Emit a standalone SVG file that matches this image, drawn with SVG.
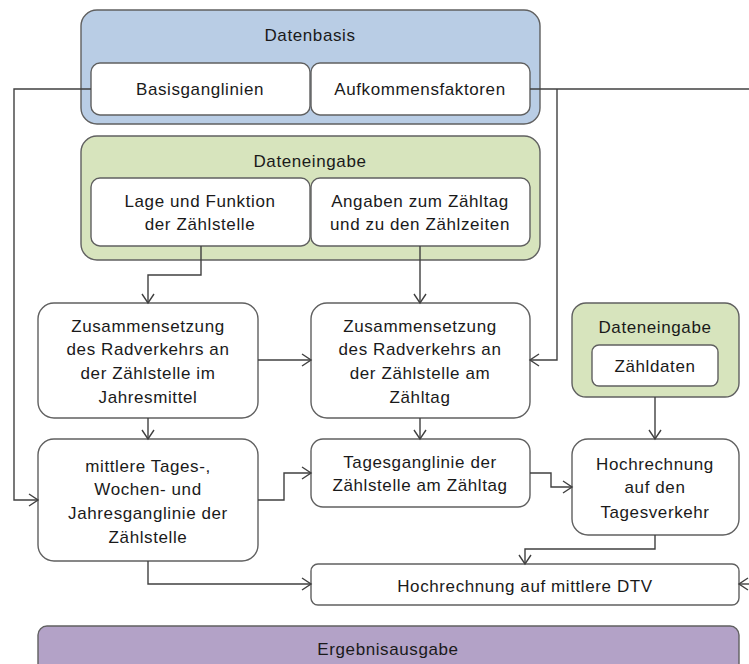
<svg xmlns="http://www.w3.org/2000/svg" width="749" height="664" viewBox="0 0 749 664">
<defs>
<marker id="ah" markerWidth="12" markerHeight="14" refX="10" refY="7" orient="auto" markerUnits="userSpaceOnUse">
<path d="M1,1 L10,7 L1,13" fill="none" stroke="#404040" stroke-width="1.4"/>
</marker>
<style>
.box{fill:#fff;stroke:#606060;stroke-width:1.4}
.blue{fill:#b9cde5;stroke:#606060;stroke-width:1.4}
.green{fill:#d7e4bd;stroke:#606060;stroke-width:1.4}
.purple{fill:#b3a2c7;stroke:#606060;stroke-width:1.4}
text{font-family:"Liberation Sans",Arial,sans-serif;font-size:17px;letter-spacing:0.6px;fill:#1a1a1a;text-anchor:middle}
.c{fill:none;stroke:#404040;stroke-width:1.4}
</style>
</defs>
<rect width="749" height="664" fill="#fff"/>

<g id="datenbasis">
<rect class="blue" x="81" y="10" width="459" height="114" rx="16"/>
<text x="310" y="41">Datenbasis</text>
</g>
<g id="basisganglinien">
<rect class="box" x="91" y="63" width="219" height="52" rx="9"/>
<text x="200" y="95">Basisganglinien</text>
</g>
<g id="aufkommensfaktoren">
<rect class="box" x="311" y="63" width="219" height="52" rx="9"/>
<text x="420" y="95">Aufkommensfaktoren</text>
</g>

<g id="dateneingabe1">
<rect class="green" x="81" y="136" width="459" height="124" rx="16"/>
<text x="310" y="167">Dateneingabe</text>
</g>
<g id="lage">
<rect class="box" x="91" y="178" width="219" height="68" rx="9"/>
<text x="200" y="207">Lage und Funktion</text>
<text x="200" y="230">der Zählstelle</text>
</g>
<g id="angaben">
<rect class="box" x="311" y="178" width="219" height="68" rx="9"/>
<text x="420" y="207">Angaben zum Zähltag</text>
<text x="420" y="230">und zu den Zählzeiten</text>
</g>

<g id="zus-jahr">
<rect class="box" x="38" y="303" width="220" height="115" rx="16"/>
<text x="148" y="332">Zusammensetzung</text>
<text x="148" y="355">des Radverkehrs an</text>
<text x="148" y="379">der Zählstelle im</text>
<text x="148" y="403">Jahresmittel</text>
</g>
<g id="zus-tag">
<rect class="box" x="311" y="303" width="219" height="115" rx="16"/>
<text x="420" y="332">Zusammensetzung</text>
<text x="420" y="355">des Radverkehrs an</text>
<text x="420" y="379">der Zählstelle am</text>
<text x="420" y="403">Zähltag</text>
</g>
<g id="dateneingabe2">
<rect class="green" x="572" y="303" width="167" height="94" rx="14"/>
<text x="655" y="333">Dateneingabe</text>
</g>
<g id="zaehldaten">
<rect class="box" x="592" y="345" width="126" height="41" rx="7"/>
<text x="655" y="372">Zähldaten</text>
</g>

<g id="ganglinie">
<rect class="box" x="38" y="439" width="220" height="122" rx="16"/>
<text x="148" y="472">mittlere Tages-,</text>
<text x="148" y="495">Wochen- und</text>
<text x="148" y="519">Jahresganglinie der</text>
<text x="148" y="543">Zählstelle</text>
</g>
<g id="tagesganglinie">
<rect class="box" x="311" y="439" width="219" height="68" rx="12"/>
<text x="420" y="468">Tagesganglinie der</text>
<text x="420" y="491">Zählstelle am Zähltag</text>
</g>
<g id="hochrechnung-tag">
<rect class="box" x="572" y="439" width="167" height="96" rx="16"/>
<text x="655" y="470">Hochrechnung</text>
<text x="655" y="493">auf den</text>
<text x="655" y="518">Tagesverkehr</text>
</g>
<g id="hochrechnung-dtv">
<rect class="box" x="311" y="564" width="428" height="41" rx="7"/>
<text x="525" y="592">Hochrechnung auf mittlere DTV</text>
</g>
<g id="ergebnis">
<rect class="purple" x="38" y="626" width="701" height="60" rx="9"/>
<text x="388" y="655">Ergebnisausgabe</text>
</g>

<g id="connectors">
<path class="c" d="M91,89 H14 V500 H38" marker-end="url(#ah)"/>
<path class="c" d="M530,89 H749"/>
<path class="c" d="M557,89 V360 H530" marker-end="url(#ah)"/>
<path class="c" d="M749,584 H739" marker-end="url(#ah)"/>
<path class="c" d="M201,246 V275 H148 V303" marker-end="url(#ah)"/>
<path class="c" d="M420,246 V303" marker-end="url(#ah)"/>
<path class="c" d="M258,360 H311" marker-end="url(#ah)"/>
<path class="c" d="M148,418 V439" marker-end="url(#ah)"/>
<path class="c" d="M420,418 V439" marker-end="url(#ah)"/>
<path class="c" d="M655,397 V439" marker-end="url(#ah)"/>
<path class="c" d="M258,500 H284 V473 H311" marker-end="url(#ah)"/>
<path class="c" d="M530,473 H551 V487 H572" marker-end="url(#ah)"/>
<path class="c" d="M655,535 V549 H525 V564" marker-end="url(#ah)"/>
<path class="c" d="M148,561 V584 H311" marker-end="url(#ah)"/>
</g>
</svg>
